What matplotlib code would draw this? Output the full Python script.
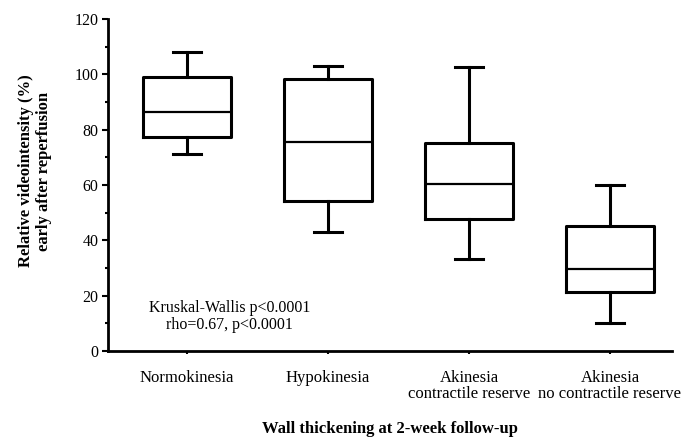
import matplotlib
matplotlib.use("Agg")
import matplotlib.pyplot as plt
from matplotlib.ticker import MultipleLocator

categories = ["Normokinesia", "Hypokinesia", "Akinesia\ncontractile reserve",
              "Akinesia\nno contractile reserve"]
whisker_low = [71.2, 43.1, 33.1, 10.2]
q1 = [77.3, 54.2, 47.8, 21.3]
median = [86.5, 75.4, 60.2, 29.8]
q3 = [98.9, 98.4, 75.3, 45.2]
whisker_high = [108.0, 103.0, 102.5, 59.9]

plt.rcParams['font.family'] = ['Liberation Serif', 'DejaVu Serif']

W, H = 691, 441
fig = plt.figure(figsize=(W / 100, H / 100), dpi=100)
ax = fig.add_axes([108 / W, 1 - 351 / H, (672 - 108) / W, (351 - 19) / H])

stats = []
for i, c in enumerate(categories):
    stats.append(dict(label=c, whislo=whisker_low[i], q1=q1[i], med=median[i],
                      q3=q3[i], whishi=whisker_high[i], fliers=[]))

positions = [1, 2, 3, 4]
ax.bxp(stats, positions=positions, widths=0.63, showfliers=False,
       boxprops=dict(color='black', linewidth=2.2),
       whiskerprops=dict(color='black', linewidth=2.2),
       capprops=dict(color='black', linewidth=2.2),
       medianprops=dict(color='black', linewidth=1.6),
       capwidths=0.2)

ax.set_xlim(0.44, 4.44)
ax.set_ylim(0, 120)
ax.yaxis.set_major_locator(MultipleLocator(20))
ax.yaxis.set_minor_locator(MultipleLocator(10))
ax.spines['top'].set_visible(False)
ax.spines['right'].set_visible(False)
ax.spines['left'].set_linewidth(2)
ax.spines['bottom'].set_linewidth(2)
ax.tick_params(axis='y', which='major', length=4, width=1.5, labelsize=11.5, pad=3)
ax.tick_params(axis='y', which='minor', length=2.5, width=1.5)
ax.tick_params(axis='x', which='major', length=2, width=1.5, labelsize=12, pad=12)
for lbl in ax.get_xticklabels():
    lbl.set_linespacing(1.0)

fig.text(35 / W, 1 - 171 / H, "Relative videointensity (%)\nearly after reperfusion",
         rotation=90, ha='center', va='center', fontsize=12, fontweight='bold',
         linespacing=1.1)
fig.text(390 / W, 1 - 429 / H, "Wall thickening at 2-week follow-up", fontsize=12,
         fontweight='bold', ha='center', va='center')

ax.text(1.3, 12.6, "Kruskal-Wallis p<0.0001\nrho=0.67, p<0.0001",
        ha='center', va='center', fontsize=11.5, linespacing=1.1)

fig.savefig("out.png", dpi=100)
